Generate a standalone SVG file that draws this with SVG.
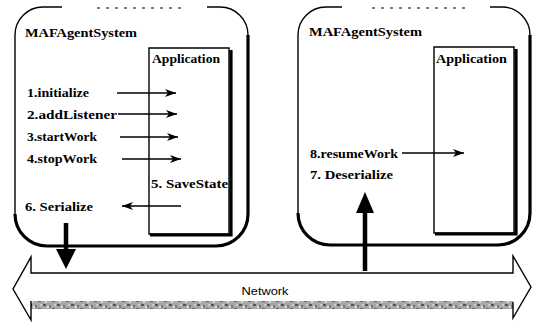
<svg xmlns="http://www.w3.org/2000/svg" width="545" height="328" viewBox="0 0 545 328">
  <defs>
    <marker id="head" markerUnits="userSpaceOnUse" markerWidth="12" markerHeight="10" refX="11" refY="5" orient="auto">
      <path d="M0,1 L11,5 L0,9 L3,5 Z" fill="#000"/>
    </marker>
    <pattern id="grain" width="14" height="8" patternUnits="userSpaceOnUse">
      <rect width="14" height="8" fill="#a8a8a8"/>
      <rect x="1" y="0" width="3" height="2" fill="#555"/>
      <rect x="7" y="1" width="2" height="3" fill="#777"/>
      <rect x="10" y="4" width="3" height="2" fill="#666"/>
      <rect x="3" y="5" width="2" height="2" fill="#ddd"/>
      <rect x="5" y="2" width="2" height="2" fill="#e6e6e6"/>
      <rect x="12" y="0" width="2" height="2" fill="#ccc"/>
    </pattern>
    <style>
      .lbl { font-family: "Liberation Serif", "Times New Roman", serif; font-size: 12.5px; font-weight: bold; fill: #000; }
      .net { font-family: "Liberation Sans", Arial, sans-serif; font-size: 10.5px; fill: #000; }
      .frame { fill: none; stroke: #000; stroke-width: 1.4; }
      .shade { fill: none; stroke: #000; stroke-width: 3.2; }
      .call { fill: none; stroke: #000; stroke-width: 1.4; marker-end: url(#head); }
      .gap { fill: none; stroke: #000; stroke-width: 1; stroke-dasharray: 3 6; }
    </style>
  </defs>
  <rect width="545" height="328" fill="#fff"/>

  <!-- source agent system -->
  <g id="source-system">
    <path class="frame" d="M15,214 L15,35 A28,28 0 0 1 43,7 L62,7 M207,7 L220,7 A28,28 0 0 1 248,35"/>
    <path class="gap" d="M97,8 L187,8"/>
    <path class="shade" d="M248,35 L248,214 A32,32 0 0 1 216,246 L47,246 A32,32 0 0 1 15,214"/>
    <text class="lbl" x="25" y="37" textLength="112" lengthAdjust="spacingAndGlyphs">MAFAgentSystem</text>
  </g>
  <g id="source-application">
    <path class="frame" d="M149,234 L149,48 L229,48 L229,234 Z"/>
    <path class="shade" d="M231,50 L231,235 L150,235"/>
    <text class="lbl" x="152" y="63" textLength="68" lengthAdjust="spacingAndGlyphs">Application</text>
    <text class="lbl" x="151" y="188" textLength="77" lengthAdjust="spacingAndGlyphs">5. SaveState</text>
  </g>
  <g id="source-calls">
    <text class="lbl" x="27" y="97" textLength="62" lengthAdjust="spacingAndGlyphs">1.initialize</text>
    <text class="lbl" x="27" y="119" textLength="90" lengthAdjust="spacingAndGlyphs">2.addListener</text>
    <text class="lbl" x="27" y="141" textLength="70" lengthAdjust="spacingAndGlyphs">3.startWork</text>
    <text class="lbl" x="27" y="163" textLength="70" lengthAdjust="spacingAndGlyphs">4.stopWork</text>
    <text class="lbl" x="25" y="211" textLength="68" lengthAdjust="spacingAndGlyphs">6. Serialize</text>
  </g>

  <!-- target agent system -->
  <g id="target-system">
    <path class="frame" d="M298,214 L298,35 A28,28 0 0 1 326,7 L342,7 M490,7 L502,7 A28,28 0 0 1 530,35"/>
    <path class="gap" d="M372,8 L465,8"/>
    <path class="shade" d="M530,35 L530,213 A32,32 0 0 1 498,245 L330,245 A32,32 0 0 1 298,213"/>
    <text class="lbl" x="309" y="36" textLength="113" lengthAdjust="spacingAndGlyphs">MAFAgentSystem</text>
    <text class="lbl" x="310" y="158" textLength="88" lengthAdjust="spacingAndGlyphs">8.resumeWork</text>
    <text class="lbl" x="310" y="179" textLength="83" lengthAdjust="spacingAndGlyphs">7. Deserialize</text>
  </g>
  <g id="target-application">
    <path class="frame" d="M434,233 L434,47 L514,47 L514,233 Z"/>
    <path class="shade" d="M516,49 L516,234 L435,234"/>
    <text class="lbl" x="436" y="63" textLength="71" lengthAdjust="spacingAndGlyphs">Application</text>
  </g>

  <!-- network -->
  <g id="network">
    <rect x="31" y="301" width="482" height="8" fill="url(#grain)"/>
    <path d="M31,301 L31,320 L13,289 L31,257 L31,273 L513,273 L513,256 L531,287 L513,318 L513,302" fill="none" stroke="#000" stroke-width="1.4" stroke-linejoin="miter"/>
    <text class="net" x="265" y="295" text-anchor="middle" textLength="47" lengthAdjust="spacingAndGlyphs">Network</text>
  </g>

  <!-- connectors -->
  <g id="connectors">
    <path class="call" d="M117,93 L176,93"/>
    <path class="call" d="M118,114 L177,114"/>
    <path class="call" d="M120,137 L178,137"/>
    <path class="call" d="M122,159 L181,159"/>
    <path class="call" d="M181,206 L122,206"/>
    <path class="call" d="M402,153 L464,153"/>
    <!-- serialize: down into the network -->
    <path d="M66,223 L66,252" stroke="#000" stroke-width="4.5" fill="none"/>
    <path d="M56,249 L76,249 L66,269 Z" fill="#000"/>
    <!-- deserialize: up from the network -->
    <path d="M365,271 L365,208" stroke="#000" stroke-width="4.5" fill="none"/>
    <path d="M356,213 L374,213 L365,192 Z" fill="#000"/>
  </g>
</svg>
